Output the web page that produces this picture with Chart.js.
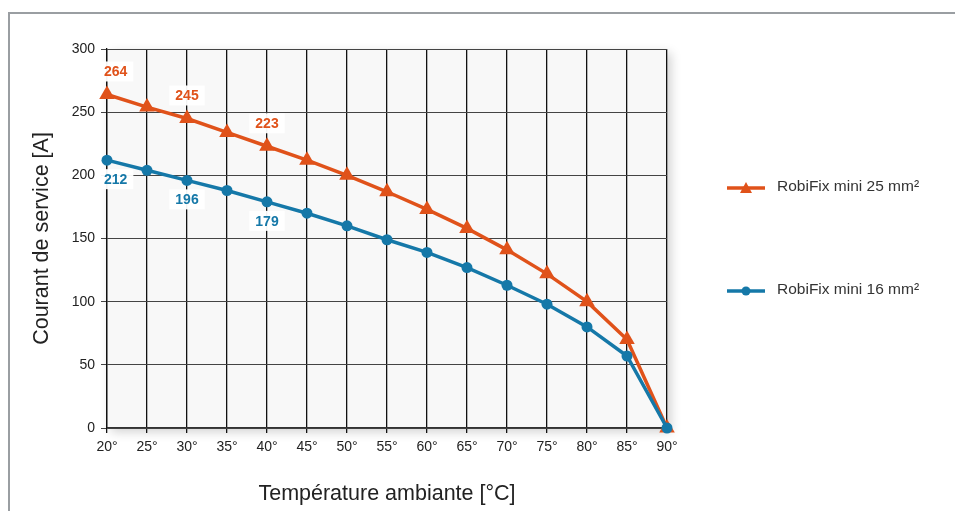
<!DOCTYPE html>
<html>
<head>
<meta charset="utf-8">
<script src="https://cdn.jsdelivr.net/npm/chart.js@4/dist/chart.umd.min.js"></script>
<style>
html,body{margin:0;padding:0;background:#fff;}
#wrap{width:955px;height:511px;position:relative;}
</style>
</head>
<body>
<div id="wrap"><canvas id="c" width="955" height="511"></canvas></div>
<script>
const temperatures = ['20°','25°','30°','35°','40°','45°','50°','55°','60°','65°','70°','75°','80°','85°','90°'];
const series25 = [264,254,245,234,223,212,200,187,173,158,141,122,100,70,0];
const series16 = [212,204,196,188,179,170,160,149,139,127,113,98,80,57,0];
const labelIndices = [0,2,4];
const seriesNames = ['RobiFix mini 25 mm²','RobiFix mini 16 mm²'];
const yTicks = [0,50,100,150,200,250,300];

const ORANGE = '#e0521a';
const BLUE = '#1578a8';
const FONT = '"Liberation Sans", Arial, Helvetica, sans-serif';

const framePlugin = {
  id: 'frame',
  beforeDraw(chart) {
    const ctx = chart.ctx, a = chart.chartArea;
    ctx.save();
    ctx.fillStyle = '#fff';
    ctx.fillRect(0,0,chart.width,chart.height);
    ctx.strokeStyle = '#9a9ea2';
    ctx.lineWidth = 2;
    ctx.beginPath();
    ctx.moveTo(9, chart.height + 5);
    ctx.lineTo(9, 13);
    ctx.lineTo(chart.width, 13);
    ctx.stroke();
    ctx.shadowColor = 'rgba(0,0,0,0.18)';
    ctx.shadowBlur = 10;
    ctx.shadowOffsetX = 4;
    ctx.shadowOffsetY = 4;
    ctx.fillStyle = '#f8f8f8';
    ctx.fillRect(a.left, a.top, a.right - a.left, a.bottom - a.top);
    ctx.restore();
  },
  afterDatasetsDraw(chart) {
    const ctx = chart.ctx, a = chart.chartArea;
    ctx.save();
    ctx.font = 'bold 14px ' + FONT;
    ctx.textAlign = 'center';
    ctx.textBaseline = 'middle';
    const cfgs = [{ds:0, color:ORANGE, dy:-23}, {ds:1, color:BLUE, dy:19}];
    cfgs.forEach(cf => {
      const meta = chart.getDatasetMeta(cf.ds);
      const data = chart.data.datasets[cf.ds].data;
      labelIndices.forEach(i => {
        const pt = meta.data[i];
        const txt = String(data[i]);
        const w = ctx.measureText(txt).width;
        let x = Math.max(pt.x, a.left + w/2 - 3);
        const y = pt.y + cf.dy;
        ctx.fillStyle = 'rgba(255,255,255,0.95)';
        ctx.fillRect(x - w/2 - 6, y - 10, w + 12, 20);
        ctx.fillStyle = cf.color;
        ctx.fillText(txt, x, y + 1);
      });
    });
    // legend
    ctx.font = '15.5px ' + FONT;
    ctx.textAlign = 'left';
    const leg = [{name:seriesNames[0], color:ORANGE, y:188, tri:true},
                 {name:seriesNames[1], color:BLUE, y:291, tri:false}];
    leg.forEach(l => {
      ctx.strokeStyle = l.color;
      ctx.lineWidth = 3.5;
      ctx.beginPath();
      ctx.moveTo(727, l.y);
      ctx.lineTo(765, l.y);
      ctx.stroke();
      ctx.fillStyle = l.color;
      ctx.beginPath();
      if (l.tri) {
        ctx.moveTo(746, l.y - 6);
        ctx.lineTo(752, l.y + 5);
        ctx.lineTo(740, l.y + 5);
        ctx.closePath();
      } else {
        ctx.arc(746, l.y, 4.5, 0, Math.PI*2);
      }
      ctx.fill();
      ctx.fillStyle = '#333';
      ctx.fillText(l.name, 777, l.y - 1);
    });
    ctx.restore();
  }
};

new Chart(document.getElementById('c'), {
  type: 'line',
  data: {
    labels: temperatures,
    datasets: [
      {label: seriesNames[0], data: series25, borderColor: ORANGE, backgroundColor: ORANGE,
       borderWidth: 3.5, pointStyle: 'triangle', pointRadius: 9, pointBorderWidth: 0,
       tension: 0, clip: false, order: 1},
      {label: seriesNames[1], data: series16, borderColor: BLUE, backgroundColor: BLUE,
       borderWidth: 3.5, pointStyle: 'circle', pointRadius: 5.5, pointBorderWidth: 0,
       tension: 0, clip: false, order: 0}
    ]
  },
  options: {
    responsive: false,
    animation: false,
    devicePixelRatio: 1,
    layout: {padding: {left: 0, top: 49, right: 288, bottom: 0}},
    plugins: {legend: {display: false}, tooltip: {enabled: false}},
    scales: {
      x: {
        type: 'category',
        offset: false,
        grid: {color: '#111', lineWidth: 1.3, tickLength: 5, drawOnChartArea: true},
        border: {color: '#333', width: 1.3},
        ticks: {color: '#222', font: {family: FONT, size: 14}, padding: 6, maxRotation: 0, autoSkip: false},
        title: {display: true, text: 'Température ambiante [°C]', color: '#222',
                font: {family: FONT, size: 21.5}, padding: {top: 16}},
        afterFit(s) { s.height = 83; }
      },
      y: {
        min: 0, max: 300,
        afterBuildTicks(s) { s.ticks = yTicks.map(v => ({value: v})); },
        grid: {color: '#444', lineWidth: 1, tickLength: 6},
        border: {color: '#111', width: 1.3},
        ticks: {color: '#222', font: {family: FONT, size: 14}, padding: 6},
        title: {display: true, text: 'Courant de service [A]', color: '#222',
                font: {family: FONT, size: 21.5}, padding: {top: 29, bottom: 0}},
        afterFit(s) { s.width = 107; }
      }
    }
  },
  plugins: [framePlugin]
});
</script>
</body>
</html>
